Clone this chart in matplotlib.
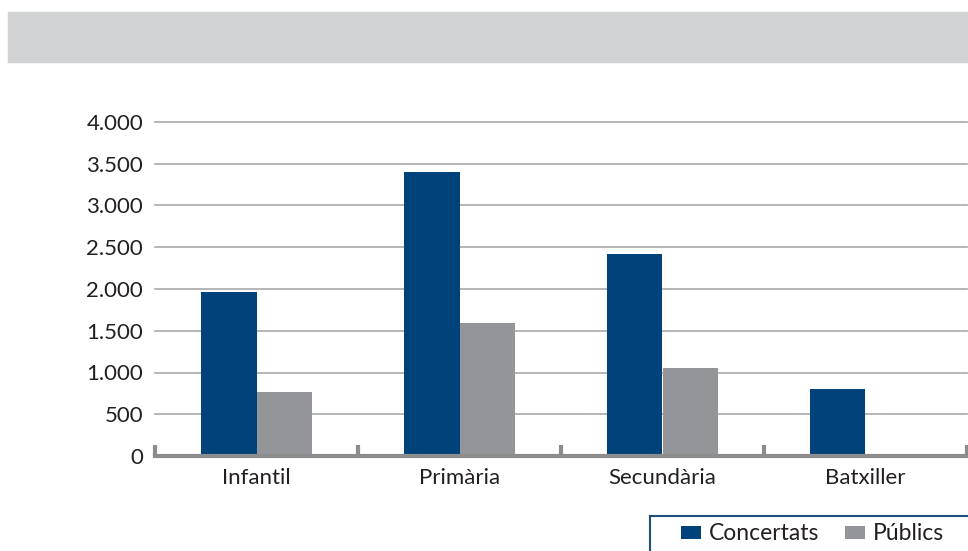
import matplotlib
matplotlib.use("Agg")
import matplotlib.pyplot as plt
from matplotlib.patches import Rectangle
import numpy as np

categories = ["Infantil", "Primària", "Secundària", "Batxiller"]
concertats = [1960, 3400, 2420, 800]
publics = [765, 1590, 1055, 0]
series_names = ["Concertats", "Públics"]
yticks = [0, 500, 1000, 1500, 2000, 2500, 3000, 3500, 4000]
ytick_labels = ["0", "500", "1.000", "1.500", "2.000", "2.500", "3.000", "3.500", "4.000"]

BLUE = "#00427A"
GRAY = "#939598"
W, H = 968, 551

plt.rcParams['font.family'] = ['Lato', 'DejaVu Sans']

fig = plt.figure(figsize=(W / 100, H / 100), dpi=100)
fig.patches.append(Rectangle((8 / W, (H - 62) / H), 1, 50 / H,
                             transform=fig.transFigure, color="#D1D2D4", zorder=0))

ax = fig.add_axes([155 / W, (H - 456) / H, (967 - 155) / W, (456 - 122) / H])
x = np.arange(len(categories))
bw = 0.275
ax.bar(x - bw / 2, concertats, bw, color=BLUE, label=series_names[0], zorder=3)
ax.bar(x + bw / 2, publics, bw, color=GRAY, label=series_names[1], zorder=3)

ax.set_xlim(-0.5, len(categories) - 0.5)
ax.set_ylim(0, 4000)
ax.set_yticks(yticks)
ax.set_yticklabels(ytick_labels, fontsize=16, color="#231F20")
ax.tick_params(axis='y', length=0, pad=8.5)
for v in yticks[1:]:
    ax.axhline(v, color="#A7A9AC", lw=1.2, zorder=1, clip_on=False)

ax.set_xticks(x)
ax.set_xticklabels(categories, fontsize=16, color="#231F20")
ax.tick_params(axis='x', which='major', length=0, pad=9)
ax.set_xticks(np.arange(-0.5, len(categories), 1), minor=True)
ax.tick_params(axis='x', which='minor', direction='in', length=8, width=3, color="#8C8C8C")

for s in ['top', 'right', 'left']:
    ax.spines[s].set_visible(False)
ax.spines['bottom'].set_color("#8C8C8C")
ax.spines['bottom'].set_linewidth(3)
ax.spines['bottom'].set_zorder(4)

# legend frame (extends past the figure edges as in the reference)
fig.patches.append(Rectangle((650 / W, (H - 556) / H), 330 / W, 40 / H,
                             transform=fig.transFigure, facecolor="white",
                             edgecolor="#1F4E80", lw=1.5, zorder=5))
leg = fig.legend(loc='center left', bbox_to_anchor=(681 / W, (H - 534) / H), ncol=2,
                 frameon=False, fontsize=16.5, handlelength=0.87,
                 handleheight=0.48, handletextpad=0.35, columnspacing=1.13,
                 borderpad=0, borderaxespad=0)
leg.set_zorder(6)
for t in leg.get_texts():
    t.set_color("#231F20")

fig.savefig("out.png", dpi=100)
